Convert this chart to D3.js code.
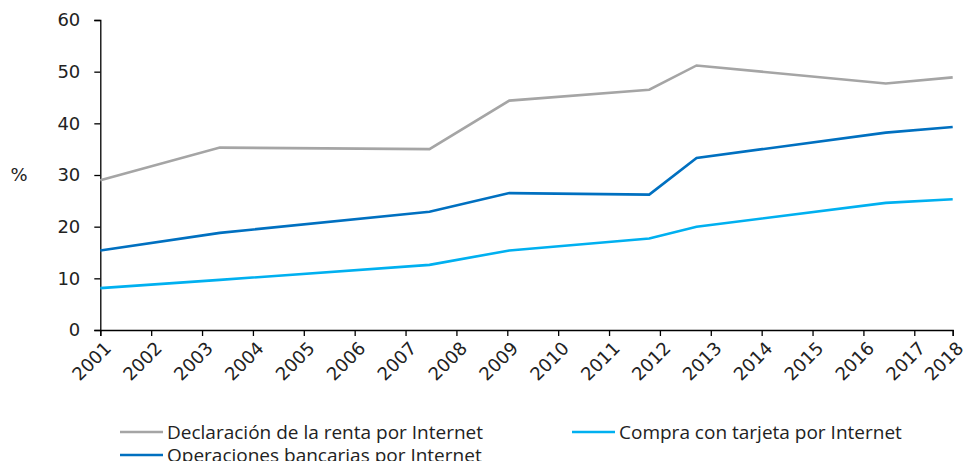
<!DOCTYPE html>
<html lang="es">
<head>
    <meta charset="UTF-8">
    <title>Uso de Internet</title>
    <style>
        body { margin: 0; background: #fff; }
        .axis text { font-family: "DejaVu Sans", sans-serif; fill: #222; }
        .axis path, .axis line { stroke: #000; stroke-width: 1.3; }
    </style>
</head>
<body>
    <svg width="963" height="461"></svg>
    <script src="https://d3js.org/d3.v7.min.js"></script>
    <script>
        // fechas de cada observación (año decimal)
        var periodos = [2001, 2003.35, 2007.47, 2009.04, 2011.79, 2012.72, 2016.44, 2017.755];
        var renta     = [29.0, 35.3, 35.0, 44.4, 46.5, 51.2, 47.7, 48.9];
        var tarjeta   = [8.1, 9.7, 12.6, 15.4, 17.7, 20.0, 24.6, 25.3];
        var bancarias = [15.4, 18.8, 22.9, 26.5, 26.2, 33.3, 38.2, 39.3];

        var nombres = ["Declaración de la renta por Internet", "Compra con tarjeta por Internet", "Operaciones bancarias por Internet"];
        var colores = ["#a5a5a5", "#00b0f0", "#0070c0"];

        var xTicks = [2001, 2002, 2003, 2004, 2005, 2006, 2007, 2008, 2009, 2010, 2011, 2012, 2013, 2014, 2015, 2016, 2017, 2017.755];
        var xLabels = ["2001", "2002", "2003", "2004", "2005", "2006", "2007", "2008", "2009", "2010", "2011", "2012", "2013", "2014", "2015", "2016", "2017", "2018"];
        var yTicks = [0, 10, 20, 30, 40, 50, 60];

        var svg = d3.select("svg"),
            margin = {top: 20, right: 10.3, bottom: 131, left: 100.3},
            width = +svg.attr("width") - margin.left - margin.right,
            height = +svg.attr("height") - margin.top - margin.bottom,
            g = svg.append("g").attr("transform", "translate(" + margin.left + "," + margin.top + ")");

        var x = d3.scaleLinear().domain([2001, 2017.755]).range([0, width]);
        var y = d3.scaleLinear().domain([0, 60]).range([height, 0]);

        var series = [renta, tarjeta, bancarias];

        var line = d3.line()
            .x(function(d, i){ return x(periodos[i]); })
            .y(function(d){ return y(d); });

        // ejes
        g.append("g")
            .attr("class", "axis")
            .call(d3.axisLeft(y).tickValues(yTicks).tickSize(6).tickPadding(14))
            .selectAll("text").style("font-size", "18px");

        var xAxis = g.append("g")
            .attr("class", "axis")
            .attr("transform", "translate(0," + height + ")")
            .call(d3.axisBottom(x).tickValues(xTicks).tickSize(6)
                .tickFormat(function(d, i){ return xLabels[i]; }));
        xAxis.selectAll("text")
            .style("font-size", "18px")
            .attr("text-anchor", "end")
            .attr("transform", "translate(7,15) rotate(-45)")
            .attr("dy", "0.35em")
            .attr("y", 0)
            .attr("x", 0);

        // draw order: renta, bancarias, tarjeta
        [0, 2, 1].forEach(function(k){
            g.append("path")
                .datum(series[k])
                .attr("fill", "none")
                .attr("stroke", colores[k])
                .attr("stroke-width", 2.6)
                .attr("stroke-linejoin", "miter")
                .attr("d", line);
        });

        svg.append("text")
            .attr("x", 19)
            .attr("y", 181)
            .attr("text-anchor", "middle")
            .attr("font-family", "DejaVu Sans, sans-serif")
            .attr("font-size", 18)
            .attr("fill", "#222")
            .text("%");

        // leyenda
        var legPos = [[120, 432], [572, 432], [120, 455]];
        var legend = svg.append("g")
            .selectAll("g")
            .data(nombres)
            .enter().append("g")
            .attr("transform", function(d, i){ return "translate(" + legPos[i][0] + "," + legPos[i][1] + ")"; });

        legend.append("line")
            .attr("x1", 0).attr("x2", 43)
            .attr("stroke", function(d, i){ return colores[i]; })
            .attr("stroke-width", 2.6);
        legend.append("text")
            .attr("x", 47)
            .attr("dy", "0.35em")
            .attr("font-family", "Open Sans, sans-serif")
            .attr("font-size", 19)
            .attr("fill", "#222")
            .text(function(d){ return d; });
    </script>
</body>
</html>
